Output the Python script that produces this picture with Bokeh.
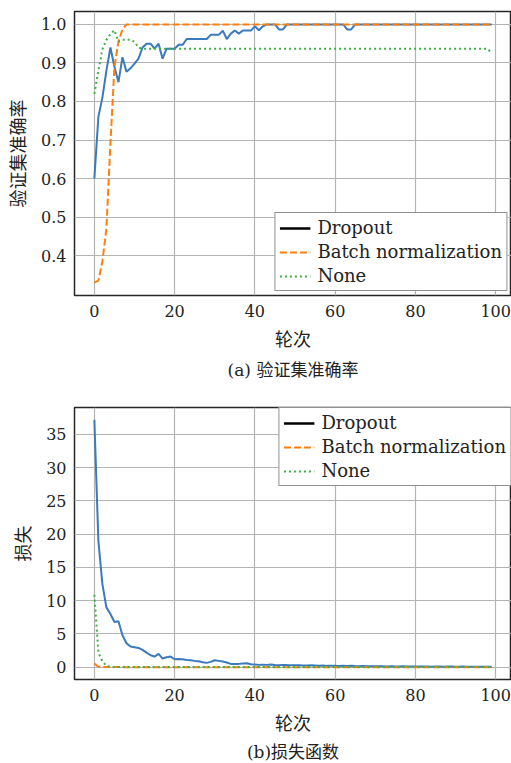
from bokeh.plotting import figure
from bokeh.models import (Range1d, Legend, LegendItem, Title, FixedTicker,
                          PrintfTickFormatter)
from bokeh.layouts import column
from bokeh.embed import file_html
from bokeh.resources import INLINE

# ---------------- data ----------------
epochs = list(range(100))

dropout_acc = [
    0.60, 0.76, 0.81, 0.88, 0.94, 0.89, 0.85, 0.915, 0.877, 0.886,
    0.898, 0.911, 0.94, 0.95, 0.95, 0.937, 0.95, 0.911, 0.937, 0.937,
    0.937, 0.947, 0.947, 0.962, 0.962, 0.962, 0.962, 0.962, 0.962, 0.973,
    0.973, 0.973, 0.984, 0.962, 0.976, 0.984, 0.976, 0.984, 0.984, 0.984,
    0.995, 0.985, 0.995, 1.0, 1.0, 1.0, 0.987, 0.987, 1.0, 1.0,
    1.0, 1.0, 1.0, 1.0, 1.0, 1.0, 1.0, 1.0, 1.0, 1.0,
    1.0, 1.0, 1.0, 0.987, 0.987, 1.0, 1.0, 1.0, 1.0, 1.0,
    1.0, 1.0, 1.0, 1.0, 1.0, 1.0, 1.0, 1.0, 1.0, 1.0,
    1.0, 1.0, 1.0, 1.0, 1.0, 1.0, 1.0, 1.0, 1.0, 1.0,
    1.0, 1.0, 1.0, 1.0, 1.0, 1.0, 1.0, 1.0, 1.0, 1.0,
]
bn_acc = [
    0.33, 0.335, 0.385, 0.47, 0.69, 0.89, 0.955, 0.987, 1.0, 1.0,
    1.0, 1.0, 1.0, 1.0, 1.0, 1.0, 1.0, 1.0, 1.0, 1.0,
    1.0, 1.0, 1.0, 1.0, 1.0, 1.0, 1.0, 1.0, 1.0, 1.0,
    1.0, 1.0, 1.0, 1.0, 1.0, 1.0, 1.0, 1.0, 1.0, 1.0,
    1.0, 1.0, 1.0, 1.0, 1.0, 1.0, 1.0, 1.0, 1.0, 1.0,
    1.0, 1.0, 1.0, 1.0, 1.0, 1.0, 1.0, 1.0, 1.0, 1.0,
    1.0, 1.0, 1.0, 1.0, 1.0, 1.0, 1.0, 1.0, 1.0, 1.0,
    1.0, 1.0, 1.0, 1.0, 1.0, 1.0, 1.0, 1.0, 1.0, 1.0,
    1.0, 1.0, 1.0, 1.0, 1.0, 1.0, 1.0, 1.0, 1.0, 1.0,
    1.0, 1.0, 1.0, 1.0, 1.0, 1.0, 1.0, 1.0, 1.0, 1.0,
]
none_acc = [
    0.82, 0.88, 0.935, 0.96, 0.975, 0.985, 0.955, 0.96, 0.96, 0.96,
    0.955, 0.94, 0.937, 0.937, 0.937, 0.937, 0.937, 0.937, 0.937, 0.937,
    0.937, 0.937, 0.937, 0.937, 0.937, 0.937, 0.937, 0.937, 0.937, 0.937,
    0.937, 0.937, 0.937, 0.937, 0.937, 0.937, 0.937, 0.937, 0.937, 0.937,
    0.937, 0.937, 0.937, 0.937, 0.937, 0.937, 0.937, 0.937, 0.937, 0.937,
    0.937, 0.937, 0.937, 0.937, 0.937, 0.937, 0.937, 0.937, 0.937, 0.937,
    0.937, 0.937, 0.937, 0.937, 0.937, 0.937, 0.937, 0.937, 0.937, 0.937,
    0.937, 0.937, 0.937, 0.937, 0.937, 0.937, 0.937, 0.937, 0.937, 0.937,
    0.937, 0.937, 0.937, 0.937, 0.937, 0.937, 0.937, 0.937, 0.937, 0.937,
    0.937, 0.937, 0.937, 0.937, 0.937, 0.937, 0.937, 0.937, 0.937, 0.925,
]

dropout_loss = [
    37.2, 19.0, 12.5, 9.0, 8.0, 6.8, 6.9, 4.8, 3.6, 3.1,
    3.0, 2.9, 2.6, 2.2, 1.8, 1.6, 2.0, 1.3, 1.5, 1.6,
    1.2, 1.25, 1.2, 1.1, 1.05, 0.95, 0.9, 0.75, 0.65, 0.8,
    1.05, 0.95, 0.85, 0.7, 0.5, 0.5, 0.5, 0.55, 0.6, 0.45,
    0.4, 0.35, 0.38, 0.35, 0.4, 0.33, 0.3, 0.35, 0.32, 0.3,
    0.28, 0.3, 0.27, 0.25, 0.28, 0.25, 0.22, 0.24, 0.2, 0.22,
    0.2, 0.18, 0.2, 0.18, 0.22, 0.17, 0.15, 0.18, 0.15, 0.14,
    0.16, 0.13, 0.15, 0.12, 0.14, 0.12, 0.11, 0.13, 0.1, 0.12,
    0.1, 0.11, 0.09, 0.1, 0.08, 0.1, 0.09, 0.08, 0.1, 0.12,
    0.08, 0.07, 0.09, 0.08, 0.07, 0.08, 0.06, 0.07, 0.06, 0.07,
]
bn_loss = [
    0.55, 0.08, 0.04, 0.03, 0.02, 0.02, 0.02, 0.01, 0.01, 0.01,
    0.01, 0.01, 0.01, 0.01, 0.01, 0.01, 0.01, 0.01, 0.01, 0.01,
    0.01, 0.01, 0.01, 0.01, 0.01, 0.01, 0.01, 0.01, 0.01, 0.01,
    0.01, 0.01, 0.01, 0.01, 0.01, 0.01, 0.01, 0.01, 0.01, 0.01,
    0.01, 0.01, 0.01, 0.01, 0.01, 0.01, 0.01, 0.01, 0.01, 0.01,
    0.01, 0.01, 0.01, 0.01, 0.01, 0.01, 0.01, 0.01, 0.01, 0.01,
    0.01, 0.01, 0.01, 0.01, 0.01, 0.01, 0.01, 0.01, 0.01, 0.01,
    0.01, 0.01, 0.01, 0.01, 0.01, 0.01, 0.01, 0.01, 0.01, 0.01,
    0.01, 0.01, 0.01, 0.01, 0.01, 0.01, 0.01, 0.01, 0.01, 0.01,
    0.01, 0.01, 0.01, 0.01, 0.01, 0.01, 0.01, 0.01, 0.01, 0.01,
]
none_loss = [
    10.9, 2.2, 0.9, 0.2, 0.06, 0.04, 0.03, 0.03, 0.03, 0.02,
    0.02, 0.02, 0.02, 0.02, 0.02, 0.02, 0.02, 0.02, 0.02, 0.02,
    0.02, 0.02, 0.02, 0.02, 0.02, 0.02, 0.02, 0.02, 0.02, 0.02,
    0.02, 0.02, 0.02, 0.02, 0.02, 0.02, 0.02, 0.02, 0.02, 0.02,
    0.02, 0.02, 0.02, 0.02, 0.02, 0.02, 0.02, 0.02, 0.02, 0.02,
    0.02, 0.02, 0.02, 0.02, 0.02, 0.02, 0.02, 0.02, 0.02, 0.02,
    0.02, 0.02, 0.02, 0.02, 0.02, 0.02, 0.02, 0.02, 0.02, 0.02,
    0.02, 0.02, 0.02, 0.02, 0.02, 0.02, 0.02, 0.02, 0.02, 0.02,
    0.02, 0.02, 0.02, 0.02, 0.02, 0.02, 0.02, 0.02, 0.02, 0.02,
    0.02, 0.02, 0.02, 0.02, 0.02, 0.02, 0.02, 0.02, 0.02, 0.02,
]

legend_labels = ["Dropout", "Batch normalization", "None"]
x_ticks = [0, 20, 40, 60, 80, 100]
acc_ticks = [0.4, 0.5, 0.6, 0.7, 0.8, 0.9, 1.0]
loss_ticks = [0, 5, 10, 15, 20, 25, 30, 35]

x_label = "轮次"
acc_label = "验证集准确率"
loss_label = "损失"
caption_a = "(a) 验证集准确率"
caption_b = "(b)损失函数"

# ---------------- style ----------------
BLUE = "#3a7abd"
ORANGE = "#ff7f0e"
GREEN = "#3cb043"
SERIF = "DejaVu Serif"
CJK = "Noto Sans CJK SC"
MIXED = "DejaVu Serif, Noto Sans CJK SC"
TEXT = "#222222"
DASH = "7 3"
DOT = "2 3"


def padded(lo, hi, frac=0.05):
    span = hi - lo
    return Range1d(lo - frac * span, hi + frac * span)


def make_fig(height, top, bottom, left, ys, yticks, yfmt, ylabel, caption,
             legend_loc, legend_margin, cap_standoff):
    all_y = [v for s in ys for v in s]
    p = figure(width=511, height=height, output_backend="svg",
               toolbar_location=None,
               x_range=padded(min(epochs), max(epochs)),
               y_range=padded(min(all_y), max(all_y)),
               min_border_left=left, min_border_right=0,
               min_border_top=top, min_border_bottom=bottom)
    p.background_fill_color = "white"
    p.border_fill_color = "white"
    p.outline_line_color = "#262626"
    p.outline_line_width = 1.5
    p.grid.grid_line_color = "#b4b4b4"
    p.grid.grid_line_width = 1.2

    p.xaxis.ticker = FixedTicker(ticks=x_ticks)
    p.yaxis.ticker = FixedTicker(ticks=yticks)
    if yfmt:
        p.yaxis.formatter = PrintfTickFormatter(format=yfmt)
    for ax in (p.xaxis[0], p.yaxis[0]):
        ax.axis_line_color = None
        ax.major_tick_line_color = None
        ax.minor_tick_line_color = None
        ax.major_tick_out = 0
        ax.major_tick_in = 0
        ax.major_label_text_font = SERIF
        ax.major_label_text_font_size = "16px"
        ax.major_label_text_color = TEXT
        ax.axis_label_text_font = CJK
        ax.axis_label_text_font_size = "18px"
        ax.axis_label_text_font_style = "normal"
        ax.axis_label_text_color = TEXT
    p.xaxis.axis_label = x_label
    p.yaxis.axis_label = ylabel
    p.xaxis.major_label_standoff = 9
    p.xaxis.axis_label_standoff = 5
    p.yaxis.major_label_standoff = 8
    p.yaxis.axis_label_standoff = 8

    d, b, n = ys
    # legend-only black key for Dropout (hidden renderer, not drawn)
    r_key = p.line(epochs, d, line_color="black", line_width=2.5,
                   visible=False)
    p.line(epochs, d, line_color=BLUE, line_width=2)
    r_b = p.line(epochs, b, line_color=ORANGE, line_width=2, line_dash=DASH)
    r_n = p.line(epochs, n, line_color=GREEN, line_width=2, line_dash=DOT)

    legend = Legend(items=[
        LegendItem(label=legend_labels[0], renderers=[r_key]),
        LegendItem(label=legend_labels[1], renderers=[r_b]),
        LegendItem(label=legend_labels[2], renderers=[r_n]),
    ], location=legend_loc, margin=legend_margin,
        label_text_font=SERIF, label_text_font_size="18px",
        label_text_color=TEXT, padding=4, spacing=3,
        label_height=18, glyph_height=18, glyph_width=31,
        label_standoff=7, border_line_color="#222222",
        border_line_width=1.5, background_fill_alpha=1.0,
        inactive_fill_alpha=0.0)
    p.add_layout(legend)

    t = Title(text=caption, align="center", text_font=MIXED,
              text_font_size="17px", text_font_style="normal",
              text_color=TEXT, standoff=cap_standoff)
    p.add_layout(t, "below")
    return p


p1 = make_fig(385, 11, 90, 74, (dropout_acc, bn_acc, none_acc), acc_ticks,
              "%.1f", acc_label, caption_a, "bottom_right", 4, 9)
p2 = make_fig(378, 22, 81, 74, (dropout_loss, bn_loss, none_loss),
              loss_ticks, None, loss_label, caption_b, "top_right", 0, 4)

layout = column(p1, p2, spacing=0)
open("out.html", "w").write(file_html(layout, INLINE))
